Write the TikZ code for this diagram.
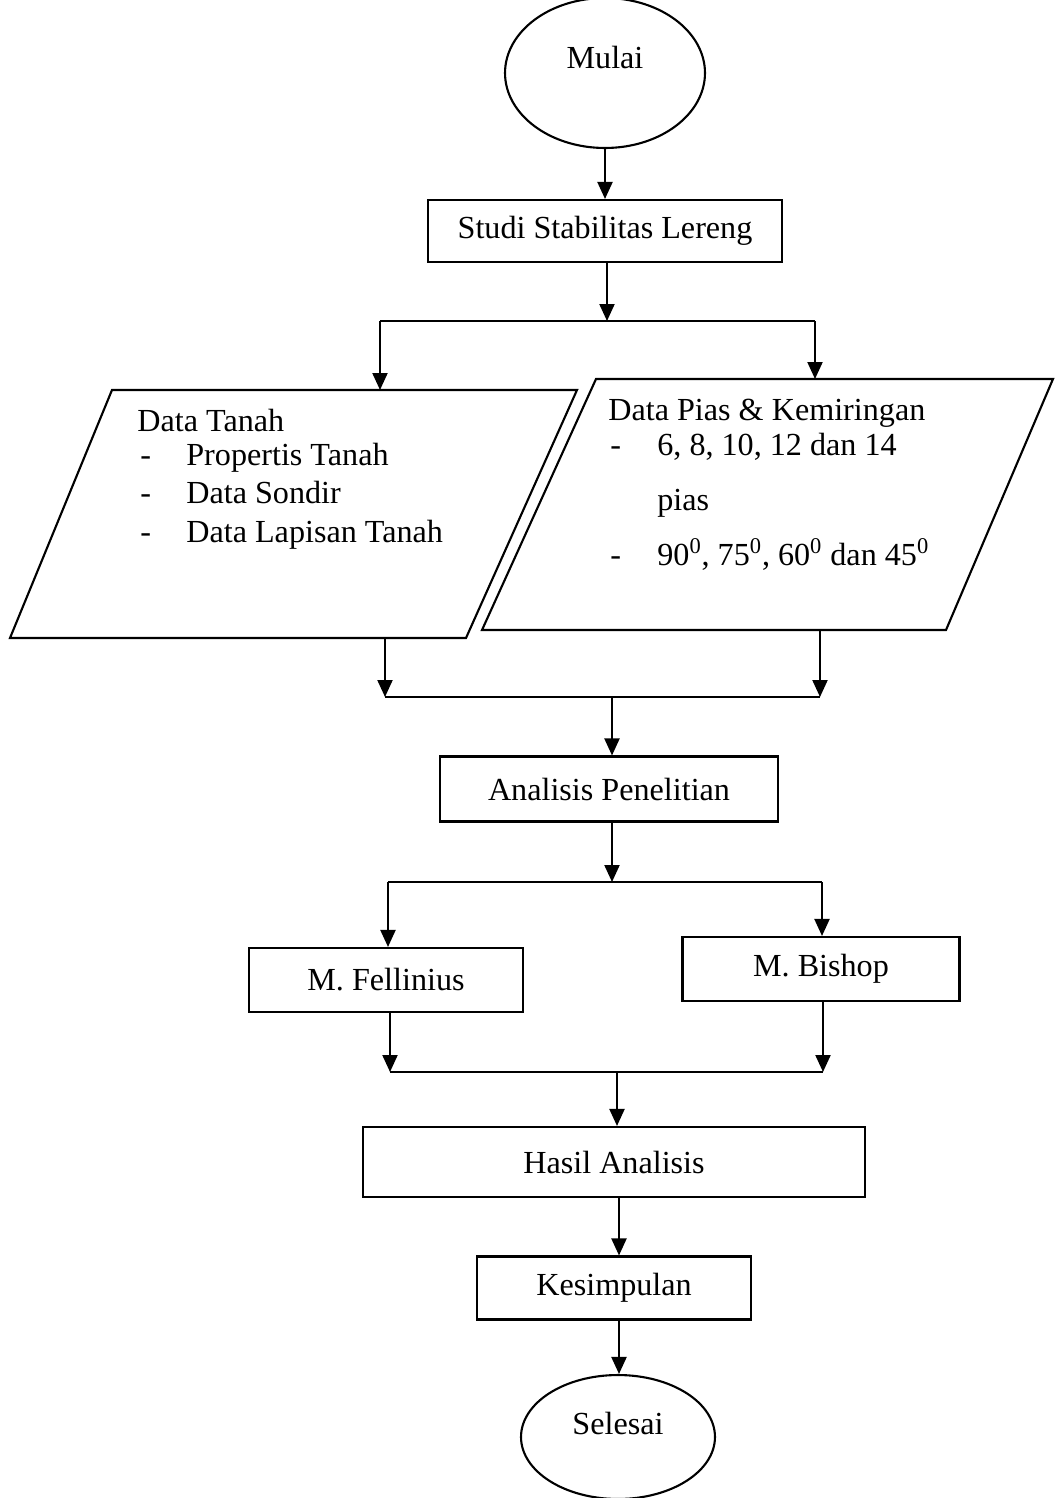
\documentclass[tikz,border=0pt]{standalone}
\usepackage{fontspec}
\setmainfont{Liberation Serif}
\usetikzlibrary{arrows, arrows.meta, shapes.geometric, calc}

\tikzset{
  proses/.style={draw, line width=1.2pt, inner sep=0pt},
  terminal/.style={draw, ellipse, line width=1.2pt, inner sep=0pt},
  alir/.style={line width=1.2pt, -{Triangle[length=0.34cm,width=0.3cm]}},
  garis/.style={line width=1.2pt, line join=miter},
  teks/.style={anchor=base west, inner sep=0pt}
}

\begin{document}
\begin{tikzpicture}[x=0.02cm, y=-0.02cm, font=\fontsize{18.3}{22}\selectfont]
    \useasboundingbox (0,0) rectangle (1055,1498);
    \node[terminal, minimum width=4cm, minimum height=3cm] (mulai) at (605,73) {};
    \node (t_mulai) at (605,57) {Mulai};
    \node[proses, minimum width=7.08cm, minimum height=1.24cm] (studi) at (605,231) {Studi Stabilitas Lereng};

    \coordinate (p_1) at (112,390);
    \coordinate (p_2) at (577,390);
    \coordinate (p_3) at (466,638);
    \coordinate (p_4) at (10,638);
    \coordinate (q_1) at (596,379);
    \coordinate (q_2) at (1053,379);
    \coordinate (q_3) at (946,630);
    \coordinate (q_4) at (482,630);
    \draw[garis] (p_1) -- (p_2) -- (p_3) -- (p_4) -- cycle;
    \draw[garis] (q_1) -- (q_2) -- (q_3) -- (q_4) -- cycle;

    \node[teks] (t_1) at (137,431) {Data Tanah};
    \node[teks] (d_1) at (140,465) {-};
    \node[teks] (t_2) at (186,465) {Propertis Tanah};
    \node[teks] (d_2) at (140,503) {-};
    \node[teks] (t_3) at (186,503) {Data Sondir};
    \node[teks] (d_3) at (140,542) {-};
    \node[teks] (t_4) at (186,542) {Data Lapisan Tanah};

    \node[teks] (s_1) at (608,420) {Data Pias \& Kemiringan};
    \node[teks] (e_1) at (610,455) {-};
    \node[teks] (s_2) at (657,455) {6, 8, 10, 12 dan 14};
    \node[teks] (s_3) at (657,510) {pias};
    \node[teks] (e_2) at (610,565) {-};
    \node[teks] (s_4) at (657,565) {90\textsuperscript{0}, 75\textsuperscript{0}, 60\textsuperscript{0} dan 45\textsuperscript{0}};

    \node[proses, minimum width=6.76cm, minimum height=1.30cm] (analisis) at (609,789) {Analisis Penelitian};
    \node[proses, minimum width=5.48cm, minimum height=1.28cm] (fellinius) at (386,980) {M. Fellinius};
    \node[proses, minimum width=5.54cm, minimum height=1.28cm] (bishop) at (821,969) {M. Bishop};
    \node[proses, minimum width=10.04cm, minimum height=1.40cm] (hasil) at (614,1162) {Hasil Analisis};
    \node[proses, minimum width=5.48cm, minimum height=1.26cm] (kesimpulan) at (614,1288) {Kesimpulan};
    \node[terminal, minimum width=3.88cm, minimum height=2.48cm] (selesai) at (618,1437) {};
    \node (t_selesai) at (618,1423) {Selesai};

    \coordinate (j_1) at (607,321);
    \coordinate (a_1) at (380,321);
    \coordinate (b_1) at (815,321);
    \coordinate (a_2) at (385,697);
    \coordinate (b_2) at (820,697);
    \coordinate (j_2) at (612,697);
    \coordinate (j_3) at (612,882);
    \coordinate (a_3) at (388,882);
    \coordinate (b_3) at (822,882);
    \coordinate (a_4) at (390,1072);
    \coordinate (b_4) at (823,1072);
    \coordinate (j_4) at (617,1072);
    \coordinate (k_1) at (619,1200);

    \draw[alir] (mulai) -- (studi);
    \draw[alir] (j_1 |- studi.south) -- (j_1);
    \draw[garis] (a_1) -- (b_1);
    \draw[alir] (a_1) -- (a_1 |- p_1);
    \draw[alir] (b_1) -- (b_1 |- q_1);

    \draw[alir] (a_2 |- p_3) -- (a_2);
    \draw[alir] (b_2 |- q_3) -- (b_2);
    \draw[garis] (a_2) -- (b_2);
    \draw[alir] (j_2) -- (j_2 |- analisis.north);

    \draw[alir] (j_3 |- analisis.south) -- (j_3);
    \draw[garis] (a_3) -- (b_3);
    \draw[alir] (a_3) -- (a_3 |- fellinius.north);
    \draw[alir] (b_3) -- (b_3 |- bishop.north);

    \draw[alir] (a_4 |- fellinius.south) -- (a_4);
    \draw[alir] (b_4 |- bishop.south) -- (b_4);
    \draw[garis] (a_4) -- (b_4);
    \draw[alir] (j_4) -- (j_4 |- hasil.north);

    \draw[alir] (k_1 |- hasil.south) -- (k_1 |- kesimpulan.north);
    \draw[alir] (k_1 |- kesimpulan.south) -- (k_1 |- selesai.north);
\end{tikzpicture}
\end{document}
